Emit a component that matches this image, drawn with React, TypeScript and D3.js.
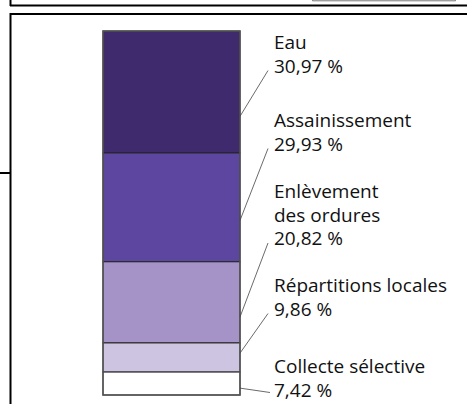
import React from "react";
import * as d3 from "d3";

// Categories, from top of the stacked bar to the bottom
const categories = ["Eau", "Assainissement", "Enlèvement des ordures", "Répartitions locales", "Collecte sélective"];
// Printed shares (labels)
const shareLabels = ["30,97 %", "29,93 %", "20,82 %", "9,86 %", "7,42 %"];
// Segment heights as drawn in the bar
const barShares = [33.5, 29.9, 22.3, 8.0, 6.3];
// Label line breaks
const labelLines = [["Eau"], ["Assainissement"], ["Enlèvement", "des ordures"], ["Répartitions locales"], ["Collecte sélective"]];

const colors = ["#3f2a6e", "#5c469f", "#a593c7", "#cdc4e2", "#ffffff"];

const W = 467;
const H = 404;
const barX0 = 103;
const barX1 = 240;
const barTop = 31;
const barBottom = 395;
const labelX = 274;
const lineH = 23.5;
// first-line baseline of each label block
const labelTops = [49, 127, 198, 292, 373];
// where the leader touches the bar, as a fraction within the segment
const attachFrac = [0.7, 0.62, 0.68, 0.35, 0.7];

export default function App() {
  const total = d3.sum(barShares);
  const y = d3.scaleLinear().domain([0, total]).range([barTop, barBottom]);
  const stackEnds = d3.cumsum(barShares);
  const segs = barShares.map((v, i) => {
    const s = i === 0 ? 0 : stackEnds[i - 1];
    return { y0: y(s), y1: y(s + v), i };
  });
  const font = "'Open Sans', 'Lato', sans-serif";

  return (
    <svg width={W} height={H} style={{ position: "absolute", left: 0, top: 0, background: "#fff" }}>
      {/* top frame remnants */}
      <line x1={10.5} y1={0} x2={10.5} y2={6} stroke="#000" strokeWidth={2} />
      <line x1={10} y1={5.5} x2={W} y2={5.5} stroke="#000" strokeWidth={2} />
      <path d="M312.5,0 V0.8 H455.5 V0" fill="none" stroke="#777" strokeWidth={1} />
      {/* main frame */}
      <line x1={10} y1={14} x2={W} y2={14} stroke="#000" strokeWidth={2} />
      <line x1={10.5} y1={13} x2={10.5} y2={H} stroke="#000" strokeWidth={2} />
      <line x1={0} y1={173} x2={10} y2={173} stroke="#000" strokeWidth={2} />

      {/* bar segments */}
      {segs.map((s) => (
        <rect key={s.i} x={barX0} y={s.y0} width={barX1 - barX0} height={s.y1 - s.y0} fill={colors[s.i]} stroke="#222" strokeWidth={1} />
      ))}
      <rect x={barX0} y={barTop} width={barX1 - barX0} height={barBottom - barTop} fill="none" stroke="#555" strokeWidth={1.5} />

      {/* leaders */}
      {segs.map((s) => {
        const ay = s.y0 + (s.y1 - s.y0) * attachFrac[s.i];
        const pctBaseline = labelTops[s.i] + lineH * labelLines[s.i].length;
        const ty = s.i === 4 ? pctBaseline - 4 : pctBaseline - 2;
        const tx = s.i === 4 ? 270 : 268;
        return <line key={"l" + s.i} x1={barX1} y1={ay} x2={tx} y2={ty} stroke="#444" strokeWidth={0.8} />;
      })}

      {/* labels */}
      {categories.map((c, i) => (
        <text key={c} x={labelX} y={labelTops[i]} fontFamily={font} fontSize={19} fill="#111">
          {labelLines[i].map((ln, k) => (
            <tspan key={k} x={labelX} dy={k === 0 ? 0 : lineH}>{ln}</tspan>
          ))}
          <tspan x={labelX} dy={lineH}>{shareLabels[i]}</tspan>
        </text>
      ))}
    </svg>
  );
}
